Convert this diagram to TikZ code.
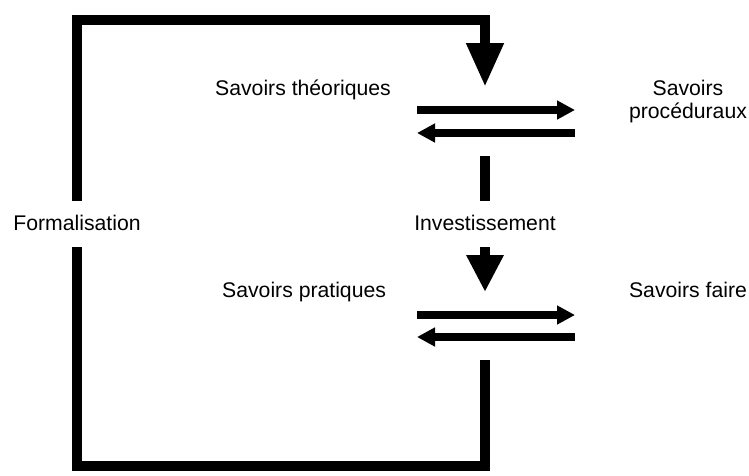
\documentclass[tikz,border=0pt]{standalone}
\usepackage{fontspec}
\setmainfont{Liberation Sans}
\usetikzlibrary{positioning, arrows.meta}

\begin{document}
\begin{tikzpicture}[
    x=1pt, y=-1pt,
    frame/.style={draw=black, line width=10.5pt, line join=miter},
    flow/.style={-{Triangle[length=18pt, width=18pt]}, line width=8pt},
    drop/.style={-{Triangle[length=#1, width=35pt]}, line width=10.5pt},
    label/.style={font=\fontsize{21.2}{23}\selectfont, inner sep=0pt}
]
\useasboundingbox (0,0) rectangle (749,475);

% Labels
\node[label, anchor=base west] (theo) at (215,95) {Savoirs théoriques};
\node[label, anchor=base west] (prat) at (222,297) {Savoirs pratiques};
\node[label, anchor=base, align=center] (proc) at (688,118) {Savoirs\\procéduraux};
\node[label, anchor=base] (faire) at (688,297) {Savoirs faire};
\node[label, anchor=base] (form) at (77,230) {Formalisation};
\node[label, anchor=base] (inv) at (485,230) {Investissement};

% Corners and ends of the loop
\coordinate (tl) at (77,20);
\coordinate (tr) at (485,20);
\coordinate (bl) at (77,466);
\coordinate (br) at (485,466);
\coordinate (formtop) at (77,201);
\coordinate (formbot) at (77,247);
\coordinate (theotip) at (485,87);
\coordinate (invtop) at (485,201);
\coordinate (invbot) at (485,247);
\coordinate (pratip) at (485,292);
\coordinate (dashtop) at (485,156);
\coordinate (loopstart) at (485,360);

% Formalisation loop
\draw[frame] (loopstart) -- (br) -- (bl) -- (formbot);
\draw[frame, drop=44pt] (formtop) -- (tl) -- (tr) -- (theotip);

% Investissement
\draw[frame] (dashtop) -- (invtop);
\draw[drop=37pt] (invbot) -- (pratip);

% Exchanges
\coordinate (w1) at (417,110); \coordinate (e1) at (575,110);
\coordinate (w2) at (417,133); \coordinate (e2) at (575,133);
\coordinate (w3) at (417,315); \coordinate (e3) at (575,315);
\coordinate (w4) at (417,337); \coordinate (e4) at (575,337);
\draw[flow] (w1) -- (e1);
\draw[flow] (e2) -- (w2);
\draw[flow] (w3) -- (e3);
\draw[flow] (e4) -- (w4);

\end{tikzpicture}
\end{document}
